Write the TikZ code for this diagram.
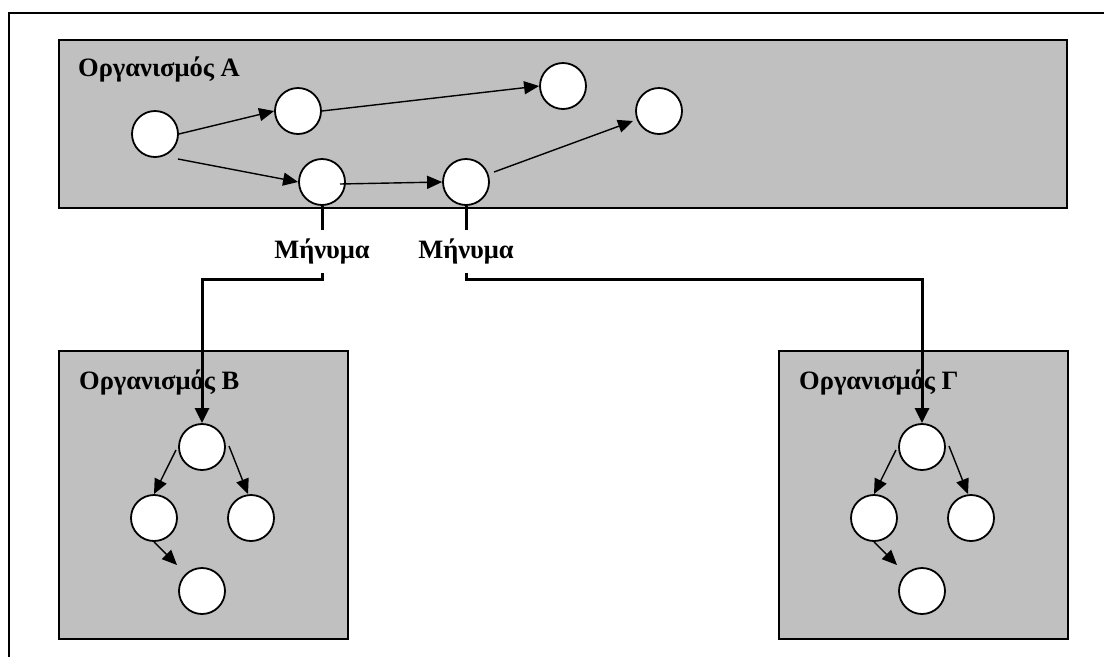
\documentclass[tikz,border=0pt]{standalone}
\usepackage{fontspec}
\setmainfont{Liberation Serif}
\usetikzlibrary{arrows.meta,calc}
\definecolor{orgfill}{RGB}{192,192,192}
\begin{document}
\begin{tikzpicture}[x=1pt,y=-1pt,
  orgbox/.style={draw=black, line width=2.2pt, fill=orgfill, anchor=north west, inner sep=0pt},
  proc/.style={circle, draw=black, fill=white, line width=1.8pt, minimum size=46pt, inner sep=0pt},
  flow/.style={line width=1.4pt, -{Triangle[length=15pt,width=13pt]}},
  msg/.style={line width=3pt, line join=miter, -{Triangle[length=15pt,width=14pt]}},
  msgstem/.style={line width=3pt},
  title/.style={font=\bfseries\fontsize{26.5}{30}\selectfont, anchor=base west, inner sep=0pt},
  msglabel/.style={font=\bfseries\fontsize{26.5}{30}\selectfont, minimum height=43pt, inner sep=0pt}]

\useasboundingbox (0,0) rectangle (1104,657);
\fill[white] (0,0) rectangle (1104,657);

% page frame (top and left edges)
\draw[line width=2pt] (1104,13) -- (9,13) -- (9,657);

% organisms
\node[orgbox, minimum width=1008pt, minimum height=168pt] (orgA) at (58,39) {};
\node[orgbox, minimum width=289pt, minimum height=288pt] (orgB) at (58,350) {};
\node[orgbox, minimum width=289pt, minimum height=288pt] (orgG) at (778,350) {};

\node[title] (tA) at (78,76) {Οργανισμός Α};
\node[title] (tB) at (79,389) {Οργανισμός Β};
\node[title] (tG) at (799,389) {Οργανισμός Γ};

% processes of organism A
\node[proc] (a1) at (155,134) {};
\node[proc] (a2) at (298,111) {};
\node[proc] (a3) at (322,182) {};
\node[proc] (a4) at (466,182) {};
\node[proc] (a5) at (563,86) {};
\node[proc] (a6) at (659,111) {};

\draw[flow] (a1.east) -- (a2.west);
\draw[flow] ($(a1)+(23,25)$) -- (a3.west);
\draw[flow] (a2.east) -- (a5.west);
\draw[flow] ($(a3)+(18,2)$) -- (a4.west);
\draw[flow] ($(a4)+(28,-10)$) -- ($(a6)+(-26,10)$);

% processes of organism B
\node[proc] (b1) at (202,447) {};
\node[proc] (b2) at (154,518) {};
\node[proc] (b3) at (251,518) {};
\node[proc] (b4) at (202,591) {};

\draw[flow] ($(b1)+(-26,3)$) -- (b2.north);
\draw[flow] ($(b1)+(27,-1)$) -- ($(b3)+(-3,-24)$);
\draw[flow] (b2.south) -- ($(b4)+(-25,-26)$);

% processes of organism Γ
\node[proc] (g1) at (922,447) {};
\node[proc] (g2) at (874,518) {};
\node[proc] (g3) at (971,518) {};
\node[proc] (g4) at (922,591) {};

\draw[flow] ($(g1)+(-26,3)$) -- (g2.north);
\draw[flow] ($(g1)+(27,-1)$) -- ($(g3)+(-3,-24)$);
\draw[flow] (g2.south) -- ($(g4)+(-25,-26)$);

% messages between organisms
\node[msglabel] (m1) at (322,251.5) {Μήνυμα};
\node[msglabel] (m2) at (466,251.5) {Μήνυμα};

\draw[msgstem] (a3.south) -- (m1.north);
\draw[msgstem] (a4.south) -- (m2.north);
\draw[msg] (m1.south) -- ++(0,6) -| (b1.north);
\draw[msg] (m2.south) -- ++(0,6) -| (g1.north);
\end{tikzpicture}
\end{document}
